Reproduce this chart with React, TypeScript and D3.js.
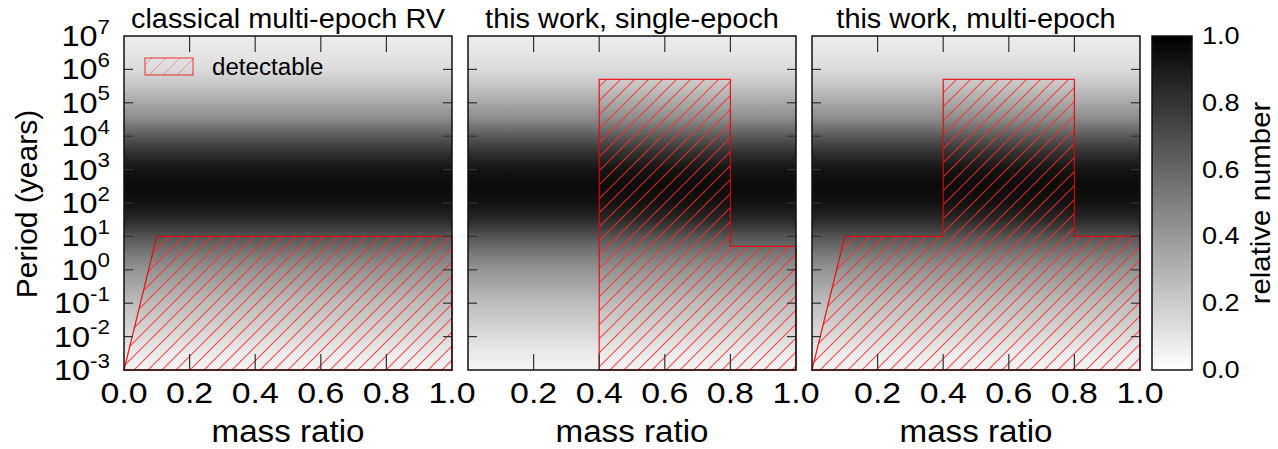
import React from "react";
import * as d3 from "d3";

// ---- data ----
const logPeriodSamples = [7, 6.5, 6, 5.5, 5, 4.5, 4, 3.5, 3, 2.5, 2, 1.5, 1, 0.5, 0, -0.5, -1, -1.5, -2, -2.5, -3];
const relativeNumber = [0.067, 0.1, 0.14, 0.23, 0.34, 0.46, 0.65, 0.81, 0.92, 0.96, 0.93, 0.84, 0.67, 0.53, 0.42, 0.34, 0.26, 0.2, 0.14, 0.08, 0.04];

const yTickExponents = [-3, -2, -1, 0, 1, 2, 3, 4, 5, 6, 7];
const xTicks = [0, 0.2, 0.4, 0.6, 0.8, 1.0];
const colorbarTicks = [0, 0.2, 0.4, 0.6, 0.8, 1.0];
const panelTitles = ["classical multi-epoch RV", "this work, single-epoch", "this work, multi-epoch"];

// detectable regions: [mass ratio, period (years)]
const detectableClassical: [number, number][] = [[0, 1e-3], [0.1, 10], [1, 10], [1, 1e-3]];
const detectableSingle: [number, number][] = [[0.4, 1e-3], [0.4, 5e5], [0.8, 5e5], [0.8, 5], [1, 5], [1, 1e-3]];
const detectableMulti: [number, number][] = [[0, 1e-3], [0.1, 10], [0.4, 10], [0.4, 5e5], [0.8, 5e5], [0.8, 10], [1, 10], [1, 1e-3]];
const regions = [detectableClassical, detectableSingle, detectableMulti];

// ---- layout ----
const W = 1278;
const H = 449;
const PANEL_LEFTS = [124, 468, 812];
const PANEL_W = 328;
const TOP = 36;
const BOTTOM = 370;
const CB_X = 1152;
const CB_W = 40;
const FONT = "'Liberation Sans', Arial, Helvetica, sans-serif";
const SX = 1.13;

const gray = (v: number) => {
  const g = Math.round(255 * (1 - v));
  return `rgb(${g},${g},${g})`;
};

export default function App() {
  const y = d3.scaleLog().domain([1e-3, 1e7]).range([BOTTOM, TOP]);
  const logToOffset = d3.scaleLinear().domain([7, -3]).range([0, 1]);
  const cbScale = d3.scaleLinear().domain([0, 1]).range([BOTTOM, TOP]);

  return (
    <svg width={W} height={H} style={{ position: "absolute", left: 0, top: 0, background: "#fff" }} fontFamily={FONT}>
      <defs>
        <linearGradient id="bgGrad" x1="0" y1="0" x2="0" y2="1">
          {logPeriodSamples.map((p, i) => (
            <stop key={i} offset={logToOffset(p)} stopColor={gray(relativeNumber[i])} />
          ))}
        </linearGradient>
        <linearGradient id="cbGrad" x1="0" y1="1" x2="0" y2="0">
          <stop offset="0" stopColor={gray(0)} />
          <stop offset="1" stopColor={gray(1)} />
        </linearGradient>
        <pattern id="hatch" patternUnits="userSpaceOnUse" width={14} height={14}>
          <path d="M-2,2 L2,-2 M0,14 L14,0 M12,16 L16,12" stroke="#ff2a2a" strokeOpacity={0.85} strokeWidth={1.1} fill="none" />
        </pattern>
        <pattern id="hatchLight" patternUnits="userSpaceOnUse" width={14} height={14}>
          <path d="M-2,2 L2,-2 M0,14 L14,0 M12,16 L16,12" stroke="#ff2a2a" strokeOpacity={0.4} strokeWidth={1} fill="none" />
        </pattern>
      </defs>

      {PANEL_LEFTS.map((left, pi) => {
        const x = d3.scaleLinear().domain([0, 1]).range([left, left + PANEL_W]);
        const line = d3
          .line<[number, number]>()
          .x((d) => x(d[0]))
          .y((d) => y(d[1]));
        const path = line(regions[pi]) + "Z";
        const right = left + PANEL_W;
        return (
          <g key={pi}>
            <rect x={left} y={TOP} width={PANEL_W} height={BOTTOM - TOP} fill="url(#bgGrad)" />
            <path d={path} fill="url(#hatch)" stroke="#f00000" strokeOpacity={0.85} strokeWidth={1.3} />
            {/* ticks */}
            {yTickExponents.slice(1, -1).map((e) => (
              <g key={"yt" + e} stroke="#333" strokeWidth={1.2}>
                <line x1={left} x2={left + 9} y1={y(Math.pow(10, e))} y2={y(Math.pow(10, e))} />
                <line x1={right - 9} x2={right} y1={y(Math.pow(10, e))} y2={y(Math.pow(10, e))} />
              </g>
            ))}
            {xTicks.slice(1, -1).map((t) => (
              <g key={"xt" + t} stroke="#333" strokeWidth={1.2}>
                <line x1={x(t)} x2={x(t)} y1={BOTTOM} y2={BOTTOM - 16} />
                <line x1={x(t)} x2={x(t)} y1={TOP} y2={TOP + 16} />
              </g>
            ))}
            <rect x={left} y={TOP} width={PANEL_W} height={BOTTOM - TOP} fill="none" stroke="#111" strokeWidth={1.5} />
            {/* x tick labels */}
            {xTicks
              .filter((t) => pi === 0 || t > 0)
              .map((t) => (
                <text
                  key={"xl" + t}
                  transform={`translate(${x(t)},403) scale(${SX},1)`}
                  textAnchor="middle"
                  fontSize={30}
                  fill="#000"
                >
                  {t.toFixed(1)}
                </text>
              ))}
            <text transform={`translate(${(left + right) / 2},442) scale(1.07,1)`} textAnchor="middle" fontSize={31}>
              mass ratio
            </text>
            <text transform={`translate(${(left + right) / 2},28) scale(1.07,1)`} textAnchor="middle" fontSize={27}>
              {panelTitles[pi]}
            </text>
          </g>
        );
      })}

      {/* y tick labels */}
      {yTickExponents.map((e) => (
        <text
          key={"yl" + e}
          transform={`translate(110,${y(Math.pow(10, e)) + 10}) scale(1.12,1)`}
          textAnchor="end"
          fontSize={29}
        >
          <tspan>10</tspan>
          <tspan dy={-12.5} fontSize={20}>
            {String(e)}
          </tspan>
        </text>
      ))}
      <text transform={`translate(37,204) rotate(-90)`} textAnchor="middle" fontSize={30}>
        Period (years)
      </text>

      {/* legend */}
      <rect x={145} y={58} width={48} height={17} fill="url(#hatchLight)" stroke="#f00000" strokeOpacity={0.65} strokeWidth={1.2} />
      <text transform={`translate(212,75) scale(1.05,1)`} fontSize={23}>
        detectable
      </text>

      {/* colorbar */}
      <rect x={CB_X} y={TOP} width={CB_W} height={BOTTOM - TOP} fill="url(#cbGrad)" stroke="#111" strokeWidth={1.5} />
      {colorbarTicks.map((t) => (
        <text key={"cb" + t} transform={`translate(1202,${cbScale(t) + 8}) scale(${SX},1)`} fontSize={24}>
          {t.toFixed(1)}
        </text>
      ))}
      <text transform={`translate(1270,${(TOP + BOTTOM) / 2}) rotate(-90) scale(1.07,1)`} textAnchor="middle" fontSize={27.5}>
        relative number
      </text>
    </svg>
  );
}
